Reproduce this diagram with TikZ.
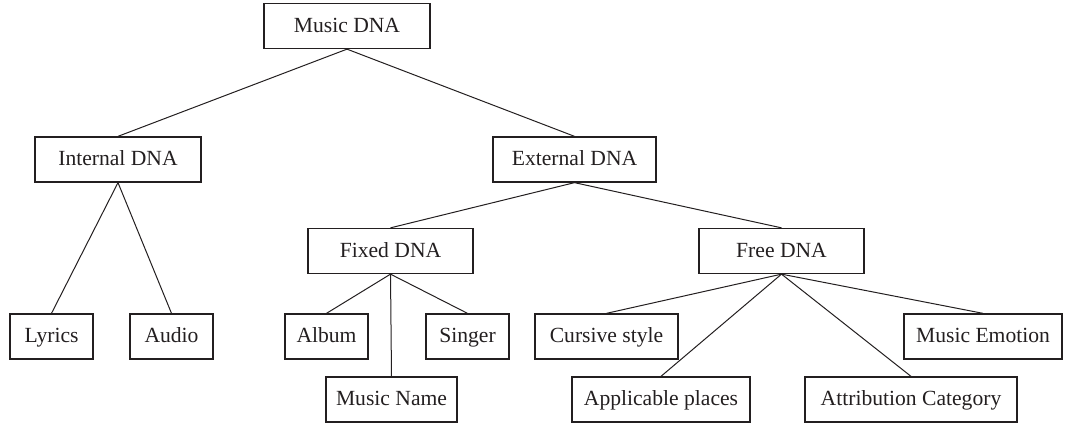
\documentclass[tikz,border=0pt]{standalone}
\usepackage{fontspec}
\setmainfont{Liberation Serif}
\definecolor{ink}{HTML}{231F20}
\tikzset{
  box/.style={draw=ink, line width=0.75pt, rectangle, minimum height=22.4pt,
    inner sep=0pt, text height=8pt, text depth=1.5pt, text=ink,
    font=\fontsize{10.8}{12}\selectfont},
  link/.style={draw=ink, line width=0.5pt}
}
\begin{document}
\begin{tikzpicture}[x=0.5pt, y=-0.5pt]
\useasboundingbox (0,0) rectangle (1065,426);
% top levels
\node[box, minimum width=83pt] (music) at (347,26) {Music DNA};
\node[box, minimum width=83pt] (internal) at (118,159.5) {Internal DNA};
\node[box, minimum width=81.5pt] (external) at (574.5,159.5) {External DNA};
\node[box, minimum width=82.5pt] (fixed) at (390.5,251) {Fixed DNA};
\node[box, minimum width=82.5pt] (free) at (781.5,251) {Free DNA};
% leaves
\node[box, minimum width=41.5pt] (lyrics) at (51.5,336.5) {Lyrics};
\node[box, minimum width=41.5pt] (audio) at (171.5,336.5) {Audio};
\node[box, minimum width=41.5pt] (album) at (326.5,336.5) {Album};
\node[box, minimum width=41.5pt] (singer) at (467.5,336.5) {Singer};
\node[box, minimum width=65.5pt] (musicname) at (391.5,399.5) {Music Name};
\node[box, minimum width=71.5pt] (cursive) at (606.5,336.5) {Cursive style};
\node[box, minimum width=89pt] (applicable) at (661,399.5) {Applicable places};
\node[box, minimum width=106pt] (attribution) at (911,399.5) {Attribution Category};
\node[box, minimum width=79pt] (emotion) at (983,336.5) {Music Emotion};
% connectors
\draw[link] (music.south) -- (internal.north);
\draw[link] (music.south) -- (external.north);
\draw[link] (internal.south) -- (lyrics.north);
\draw[link] (internal.south) -- (audio.north);
\draw[link] (external.south) -- (fixed.north);
\draw[link] (external.south) -- (free.north);
\draw[link] (fixed.south) -- (album.north);
\draw[link] (fixed.south) -- (musicname.north);
\draw[link] (fixed.south) -- (singer.north);
\draw[link] (free.south) -- (cursive.north);
\draw[link] (free.south) -- (applicable.north);
\draw[link] (free.south) -- (attribution.north);
\draw[link] (free.south) -- (emotion.north);
\end{tikzpicture}
\end{document}
